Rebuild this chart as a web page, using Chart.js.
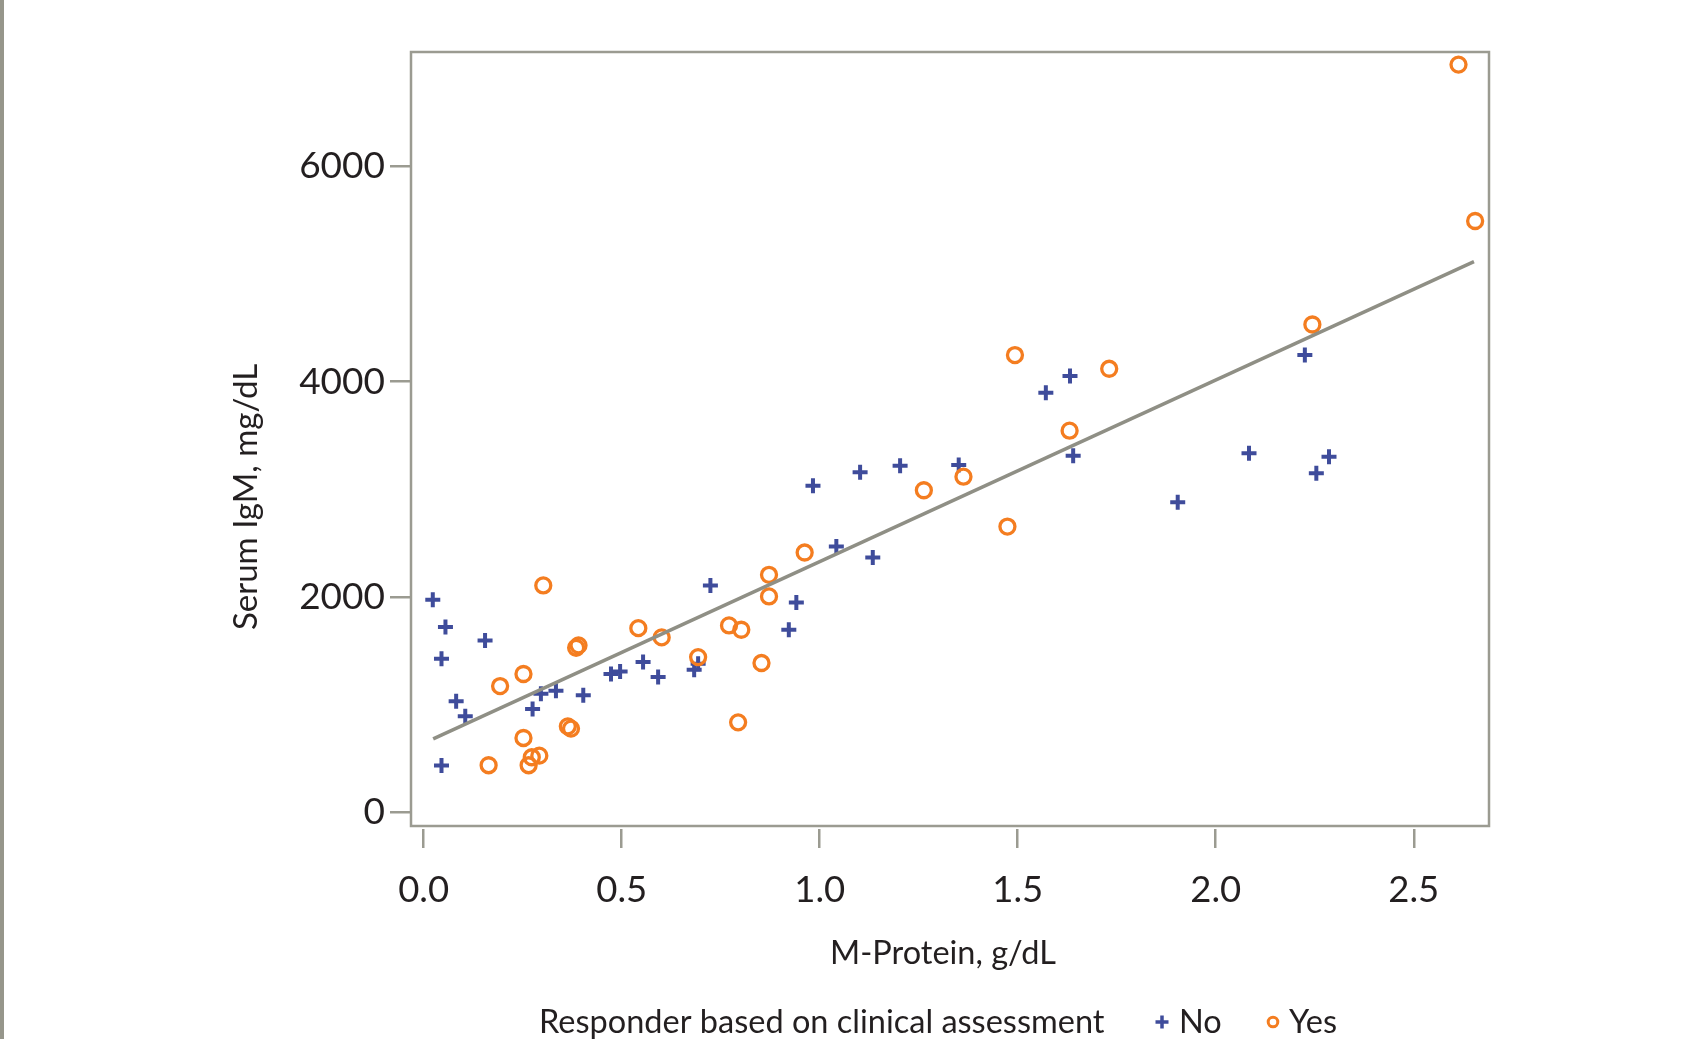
<!DOCTYPE html>
<html lang="en">
<head>
    <meta charset="UTF-8">
    <title>Serum IgM vs M-Protein</title>
    <style>
        body { margin: 0; background: #fff; overflow: hidden; }
        #left-rule { position: absolute; left: 0; top: 0; width: 4px; height: 1039px; background: #96968b; }
        #chart-container { position: absolute; left: 0; top: 0; width: 1703px; height: 1039px; }
    </style>
</head>
<body>
    <div id="left-rule"></div>
    <div id="chart-container">
        <canvas id="scatter"></canvas>
    </div>

    <script src="https://cdn.jsdelivr.net/npm/chart.js"></script>

    <script>
        // Data (M-Protein g/dL, serum IgM mg/dL)
        const noProtein = [0.023, 0.055, 0.045, 0.155, 0.082, 0.105, 0.045, 0.275, 0.296, 0.334, 0.403, 0.473,
            0.496, 0.554, 0.592, 0.683, 0.693, 0.724, 0.941, 0.922, 1.042, 0.983, 1.102, 1.203, 1.351, 1.571,
            1.632, 1.640, 1.904, 1.134, 2.225, 2.084, 2.286, 2.254];
        const noIgM = [1975, 1722, 1428, 1598, 1032, 893, 436, 961, 1103, 1131, 1088, 1286,
            1310, 1397, 1258, 1326, 1381, 2108, 1950, 1697, 2469, 3035, 3159, 3220, 3227, 3897,
            4052, 3313, 2881, 2367, 4247, 3335, 3304, 3150];

        const yesProtein = [0.302, 0.252, 0.193, 0.391, 0.385, 0.252, 0.164, 0.265, 0.273, 0.292, 0.364, 0.372,
            0.542, 0.601, 0.693, 0.771, 0.802, 0.853, 0.794, 0.872, 0.872, 0.962, 1.493, 1.731, 1.631,
            1.363, 1.263, 1.474, 2.244, 2.613, 2.655];
        const yesIgM = [2108, 1286, 1174, 1552, 1530, 692, 439, 439, 513, 528, 800, 779,
            1712, 1626, 1443, 1737, 1697, 1388, 837, 2006, 2207, 2414, 4247, 4120, 3545,
            3118, 2992, 2655, 4531, 6944, 5492];

        // regression line drawn across the data range
        const fitIntercept = 643;
        const fitSlope = 1686;
        const fitRange = [0.024, 2.652];

        const xTicks = [0, 0.5, 1, 1.5, 2, 2.5];
        const yTicks = [0, 2000, 4000, 6000];

        const seriesLabels = ['No', 'Yes'];
        const legendTitle = 'Responder based on clinical assessment';
        const xTitle = 'M-Protein, g/dL';
        const yTitle = 'Serum IgM, mg/dL';

        const blue = '#3f4c9b';
        const orange = '#f47d20';
        const gray = '#9b9b91';
        const textColor = '#231f20';

        Chart.defaults.font.family = 'Lato';
        Chart.defaults.color = textColor;

        const toPoints = (xs, ys) => xs.map((x, i) => ({ x: x, y: ys[i] }));
        const fitLine = fitRange.map(x => ({ x: x, y: fitIntercept + fitSlope * x }));

        // frame, axis titles and the one-row legend
        const decorations = {
            id: 'decorations',
            beforeDatasetsDraw(chart) {
                const { ctx, chartArea } = chart;
                ctx.save();
                ctx.strokeStyle = gray;
                ctx.lineWidth = 2.5;
                ctx.strokeRect(chartArea.left, chartArea.top, chartArea.right - chartArea.left, chartArea.bottom - 3 - chartArea.top);
                ctx.restore();
            },
            afterDraw(chart) {
                const ctx = chart.ctx;
                ctx.save();
                ctx.fillStyle = textColor;
                ctx.textBaseline = 'alphabetic';

                ctx.font = '32.5px Lato';
                ctx.textAlign = 'center';
                ctx.fillText(xTitle, 943, 964);

                ctx.save();
                ctx.translate(257, 497);
                ctx.rotate(-Math.PI / 2);
                ctx.font = '33px Lato';
                ctx.fillText(yTitle, 0, 0);
                ctx.restore();

                ctx.textAlign = 'left';
                ctx.font = '32.5px Lato';
                ctx.fillText(legendTitle, 539, 1033);

                // + No
                ctx.strokeStyle = blue;
                ctx.lineWidth = 3.5;
                ctx.beginPath();
                ctx.moveTo(1155.5, 1022); ctx.lineTo(1168.5, 1022);
                ctx.moveTo(1162, 1015.5); ctx.lineTo(1162, 1028.5);
                ctx.stroke();
                ctx.fillText(seriesLabels[0], 1179, 1033);

                // o Yes
                ctx.strokeStyle = orange;
                ctx.lineWidth = 3;
                ctx.beginPath();
                ctx.arc(1273, 1022, 4.8, 0, Math.PI * 2);
                ctx.stroke();
                ctx.fillText(seriesLabels[1], 1289, 1033);
                ctx.restore();
            }
        };

        const ctx = document.getElementById('scatter').getContext('2d');
        const chart = new Chart(ctx, {
            type: 'scatter',
            data: {
                datasets: [
                    {
                        type: 'line',
                        label: 'fit',
                        data: fitLine,
                        borderColor: '#8f8f85',
                        borderWidth: 3.5,
                        pointRadius: 0,
                        order: 0
                    },
                    {
                        label: seriesLabels[1],
                        data: toPoints(yesProtein, yesIgM),
                        pointStyle: 'circle',
                        pointRadius: 7.5,
                        borderWidth: 3.3,
                        borderColor: orange,
                        backgroundColor: 'rgba(0,0,0,0)',
                        order: 1
                    },
                    {
                        label: seriesLabels[0],
                        data: toPoints(noProtein, noIgM),
                        pointStyle: 'cross',
                        pointRadius: 7.5,
                        borderWidth: 4,
                        borderColor: blue,
                        backgroundColor: blue,
                        order: 2
                    }
                ]
            },
            options: {
                responsive: true,
                maintainAspectRatio: false,
                animation: false,
                layout: { padding: { left: 0, top: 52, right: 214, bottom: 0 } },
                plugins: {
                    legend: { display: false },
                    tooltip: { enabled: false }
                },
                scales: {
                    x: {
                        type: 'linear',
                        min: -0.032,
                        max: 2.690,
                        afterFit: (scale) => { scale.height = 210; },
                        afterBuildTicks: (scale) => { scale.ticks = xTicks.map(v => ({ value: v })); },
                        border: { display: false },
                        grid: { drawOnChartArea: false, drawTicks: true, tickLength: 19, color: gray, lineWidth: 2.5 },
                        ticks: {
                            padding: 20,
                            font: { size: 36.5 },
                            color: textColor,
                            callback: (value) => value.toFixed(1)
                        }
                    },
                    y: {
                        type: 'linear',
                        min: -153,
                        max: 7061,
                        afterFit: (scale) => { scale.width = 411; },
                        afterBuildTicks: (scale) => { scale.ticks = yTicks.map(v => ({ value: v })); },
                        border: { display: false },
                        grid: { drawOnChartArea: false, drawTicks: true, tickLength: 21, color: gray, lineWidth: 2.5 },
                        ticks: {
                            padding: 5,
                            font: { size: 37 },
                            color: textColor,
                            callback: (value) => String(value)
                        }
                    }
                }
            },
            plugins: [decorations]
        });
    </script>
</body>
</html>
